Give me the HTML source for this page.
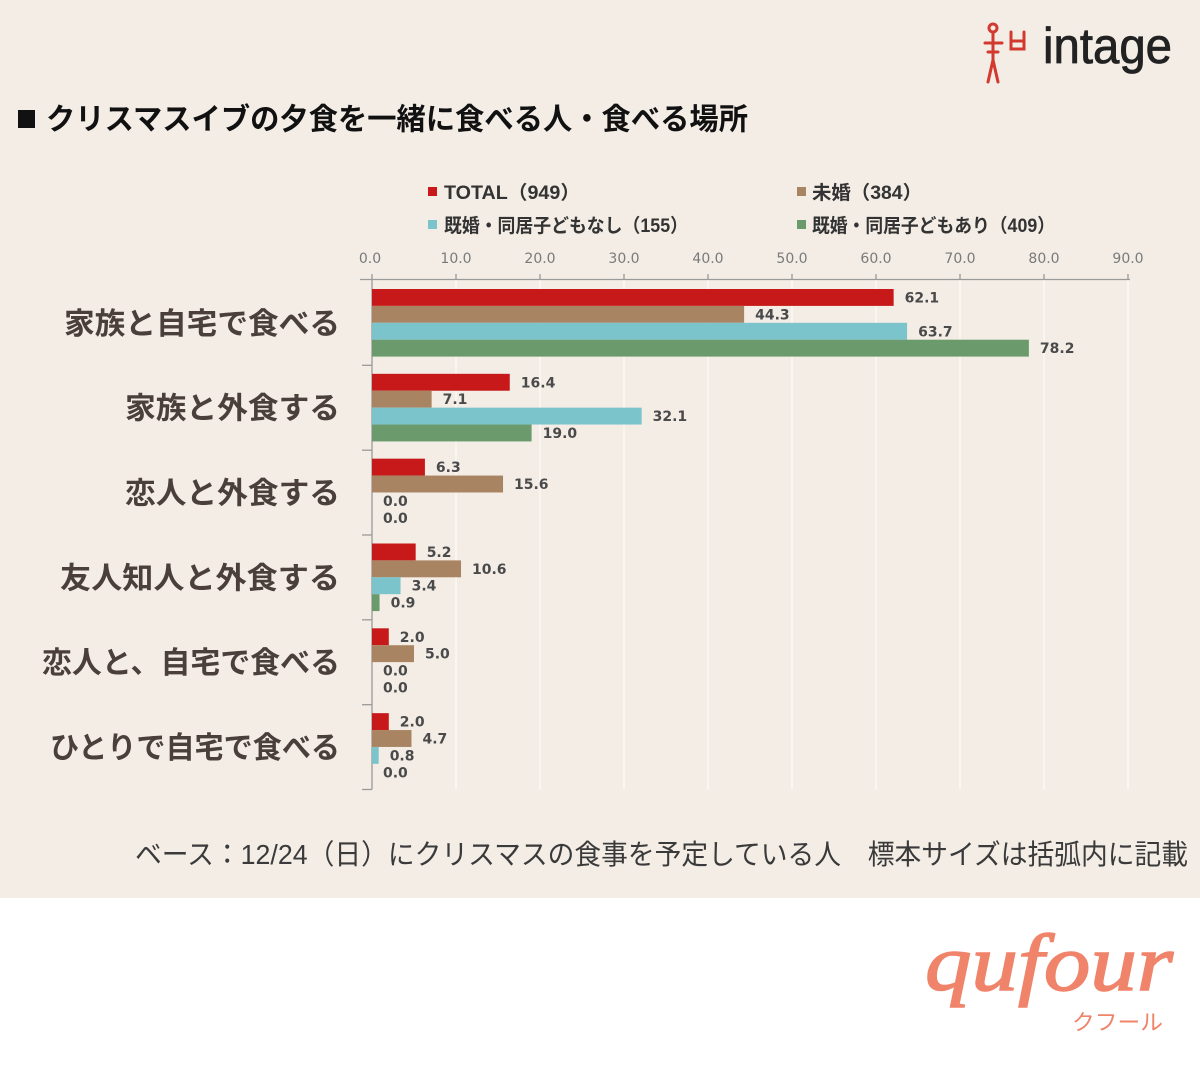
<!DOCTYPE html>
<html>
<head>
<meta charset="utf-8">
<style>
html,body{margin:0;padding:0;background:#ffffff;}
svg{display:block;}
.jp{font-family:"Liberation Sans","Noto Sans CJK JP",sans-serif;}
.num{font-family:"DejaVu Sans","Liberation Sans",sans-serif;}
</style>
</head>
<body>
<svg width="1200" height="1065" viewBox="0 0 1200 1065" xmlns="http://www.w3.org/2000/svg">
  <!-- backgrounds -->
  <rect x="0" y="0" width="1200" height="1065" fill="#ffffff"/>
  <rect x="0" y="0" width="1200" height="898" fill="#f3ede6"/>

  <!-- intage logo -->
  <g stroke="#d23a30" stroke-width="3" fill="none" stroke-linecap="round">
    <circle cx="993" cy="28" r="4"/>
    <line x1="993" y1="32" x2="993" y2="60"/>
    <line x1="985" y1="43" x2="1002" y2="43"/>
    <line x1="988" y1="52" x2="998" y2="52"/>
    <line x1="993" y1="60" x2="988" y2="82"/>
    <line x1="993" y1="60" x2="998" y2="82"/>
    <path d="M1011,32 V49 H1024 V32"/>
    <line x1="1011" y1="41" x2="1024" y2="41"/>
  </g>
  <text x="1043" y="63" font-family="Liberation Sans, sans-serif" font-size="50" fill="#222" stroke="#222" stroke-width="0.8" textLength="129" lengthAdjust="spacingAndGlyphs">intage</text>

  <!-- title -->
  <rect x="18" y="110" width="17" height="18" fill="#111"/>
  <text class="jp" x="46" y="129.5" font-size="30" font-weight="bold" fill="#111" textLength="702" lengthAdjust="spacingAndGlyphs">クリスマスイブの夕食を一緒に食べる人・食べる場所</text>

  <!-- legend -->
  <rect x="428" y="187" width="9" height="9" fill="#c8191a"/>
  <text class="jp" x="444" y="199" font-size="19" font-weight="bold" fill="#333" textLength="136" lengthAdjust="spacingAndGlyphs">TOTAL（949）</text>
  <rect x="797" y="187" width="9" height="9" fill="#a98462"/>
  <text class="jp" x="812" y="199" font-size="19" font-weight="bold" fill="#333" textLength="110" lengthAdjust="spacingAndGlyphs">未婚（384）</text>
  <rect x="428" y="220" width="9" height="9" fill="#7cc4cc"/>
  <text class="jp" x="444" y="232" font-size="19" font-weight="bold" fill="#333" textLength="244" lengthAdjust="spacingAndGlyphs">既婚・同居子どもなし（155）</text>
  <rect x="797" y="220" width="9" height="9" fill="#6b9a6c"/>
  <text class="jp" x="812" y="232" font-size="19" font-weight="bold" fill="#333" textLength="243" lengthAdjust="spacingAndGlyphs">既婚・同居子どもあり（409）</text>

  <!-- gridlines -->
  <g stroke="#fbf8f4" stroke-width="1.5">
    <line x1="456" y1="280" x2="456" y2="789.5"/>
    <line x1="540" y1="280" x2="540" y2="789.5"/>
    <line x1="624" y1="280" x2="624" y2="789.5"/>
    <line x1="708" y1="280" x2="708" y2="789.5"/>
    <line x1="792" y1="280" x2="792" y2="789.5"/>
    <line x1="876" y1="280" x2="876" y2="789.5"/>
    <line x1="960" y1="280" x2="960" y2="789.5"/>
    <line x1="1044" y1="280" x2="1044" y2="789.5"/>
    <line x1="1128" y1="280" x2="1128" y2="789.5"/>
  </g>

  <!-- tick labels -->
  <g class="num" font-size="14" fill="#7a7a7a" text-anchor="middle">
    <text x="370" y="263">0.0</text>
    <text x="456" y="263">10.0</text>
    <text x="540" y="263">20.0</text>
    <text x="624" y="263">30.0</text>
    <text x="708" y="263">40.0</text>
    <text x="792" y="263">50.0</text>
    <text x="876" y="263">60.0</text>
    <text x="960" y="263">70.0</text>
    <text x="1044" y="263">80.0</text>
    <text x="1128" y="263">90.0</text>
  </g>

  <!-- axes -->
  <g stroke="#9a9a9a" stroke-width="1.3">
    <line x1="360" y1="279.5" x2="1130" y2="279.5"/>
    <line x1="456" y1="274" x2="456" y2="279.5"/>
    <line x1="540" y1="274" x2="540" y2="279.5"/>
    <line x1="624" y1="274" x2="624" y2="279.5"/>
    <line x1="708" y1="274" x2="708" y2="279.5"/>
    <line x1="792" y1="274" x2="792" y2="279.5"/>
    <line x1="876" y1="274" x2="876" y2="279.5"/>
    <line x1="960" y1="274" x2="960" y2="279.5"/>
    <line x1="1044" y1="274" x2="1044" y2="279.5"/>
    <line x1="1128" y1="274" x2="1128" y2="279.5"/>
    <line x1="372" y1="274" x2="372" y2="789.5"/>
    <line x1="362" y1="365.3" x2="372" y2="365.3"/>
    <line x1="362" y1="450.2" x2="372" y2="450.2"/>
    <line x1="362" y1="535" x2="372" y2="535"/>
    <line x1="362" y1="619.8" x2="372" y2="619.8"/>
    <line x1="362" y1="704.7" x2="372" y2="704.7"/>
    <line x1="362" y1="789.5" x2="372" y2="789.5"/>
  </g>

  <!-- bars -->
  <g>
    <!-- G1 -->
    <rect x="372" y="289.0" width="521.64" height="16.9" fill="#c8191a"/>
    <rect x="372" y="305.9" width="372.12" height="16.9" fill="#a98462"/>
    <rect x="372" y="322.8" width="535.08" height="16.9" fill="#7cc4cc"/>
    <rect x="372" y="339.7" width="656.88" height="16.9" fill="#6b9a6c"/>
    <!-- G2 -->
    <rect x="372" y="373.83" width="137.76" height="16.9" fill="#c8191a"/>
    <rect x="372" y="390.73" width="59.64" height="16.9" fill="#a98462"/>
    <rect x="372" y="407.63" width="269.64" height="16.9" fill="#7cc4cc"/>
    <rect x="372" y="424.53" width="159.6" height="16.9" fill="#6b9a6c"/>
    <!-- G3 -->
    <rect x="372" y="458.66" width="52.92" height="16.9" fill="#c8191a"/>
    <rect x="372" y="475.56" width="131.04" height="16.9" fill="#a98462"/>
    <!-- G4 -->
    <rect x="372" y="543.49" width="43.68" height="16.9" fill="#c8191a"/>
    <rect x="372" y="560.39" width="89.04" height="16.9" fill="#a98462"/>
    <rect x="372" y="577.29" width="28.56" height="16.9" fill="#7cc4cc"/>
    <rect x="372" y="594.19" width="7.56" height="16.9" fill="#6b9a6c"/>
    <!-- G5 -->
    <rect x="372" y="628.32" width="16.8" height="16.9" fill="#c8191a"/>
    <rect x="372" y="645.22" width="42" height="16.9" fill="#a98462"/>
    <!-- G6 -->
    <rect x="372" y="713.15" width="16.8" height="16.9" fill="#c8191a"/>
    <rect x="372" y="730.05" width="39.48" height="16.9" fill="#a98462"/>
    <rect x="372" y="746.95" width="6.72" height="16.9" fill="#7cc4cc"/>
  </g>

  <!-- value labels -->
  <g class="num" font-size="14" font-weight="bold" fill="#4a4a4a">
    <text x="904.6" y="302.5">62.1</text>
    <text x="755.1" y="319.4">44.3</text>
    <text x="918.1" y="336.3">63.7</text>
    <text x="1039.9" y="353.2">78.2</text>

    <text x="520.8" y="387.3">16.4</text>
    <text x="442.6" y="404.2">7.1</text>
    <text x="652.6" y="421.1">32.1</text>
    <text x="542.6" y="438.0">19.0</text>

    <text x="435.9" y="472.1">6.3</text>
    <text x="514.0" y="489.0">15.6</text>
    <text x="383" y="505.9">0.0</text>
    <text x="383" y="522.8">0.0</text>

    <text x="426.7" y="556.9">5.2</text>
    <text x="472.0" y="573.8">10.6</text>
    <text x="411.6" y="590.7">3.4</text>
    <text x="390.6" y="607.6">0.9</text>

    <text x="399.8" y="641.8">2.0</text>
    <text x="425" y="658.7">5.0</text>
    <text x="383" y="675.6">0.0</text>
    <text x="383" y="692.5">0.0</text>

    <text x="399.8" y="726.6">2.0</text>
    <text x="422.5" y="743.5">4.7</text>
    <text x="389.7" y="760.4">0.8</text>
    <text x="383" y="777.3">0.0</text>
  </g>

  <!-- category labels -->
  <g class="jp" font-size="30" font-weight="bold" fill="#4b3f3b">
    <text x="64" y="333.9" textLength="276" lengthAdjust="spacingAndGlyphs">家族と自宅で食べる</text>
    <text x="125" y="418.7" textLength="215" lengthAdjust="spacingAndGlyphs">家族と外食する</text>
    <text x="125" y="503.6" textLength="215" lengthAdjust="spacingAndGlyphs">恋人と外食する</text>
    <text x="60" y="588.4" textLength="280" lengthAdjust="spacingAndGlyphs">友人知人と外食する</text>
    <text x="42" y="673.2" textLength="298" lengthAdjust="spacingAndGlyphs">恋人と、自宅で食べる</text>
    <text x="50" y="758.1" textLength="290" lengthAdjust="spacingAndGlyphs">ひとりで自宅で食べる</text>
  </g>

  <!-- footer note -->
  <text class="jp" x="135" y="864" font-size="28" fill="#3a3a3a" textLength="1053" lengthAdjust="spacingAndGlyphs">ベース：12/24（日）にクリスマスの食事を予定している人　標本サイズは括弧内に記載</text>

  <!-- qufour logo -->
  <text x="925" y="990" font-family="Liberation Serif, serif" font-style="italic" font-size="80" fill="#f0846a" stroke="#f0846a" stroke-width="1.5" textLength="248" lengthAdjust="spacingAndGlyphs">qufour</text>
  <text class="jp" x="1072" y="1030" font-size="22" fill="#f0846a" textLength="91" lengthAdjust="spacingAndGlyphs">クフール</text>
</svg>
</body>
</html>
